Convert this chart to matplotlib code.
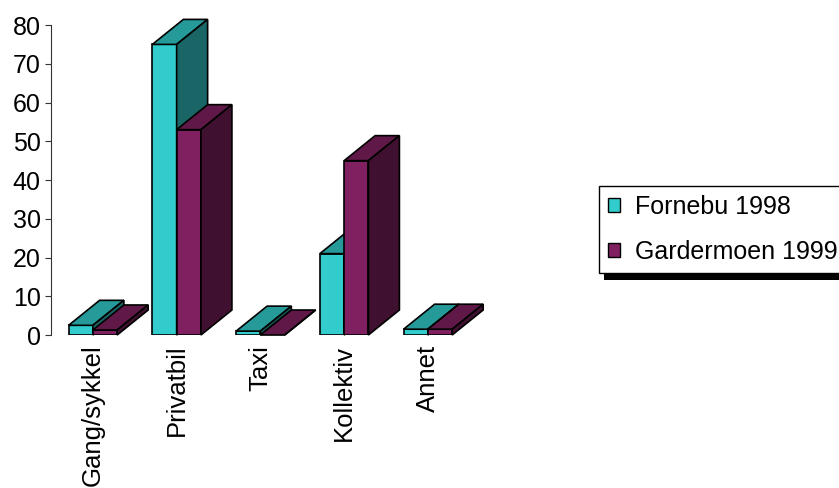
import matplotlib
matplotlib.use('Agg')
import matplotlib.pyplot as plt
from matplotlib.patches import Polygon, Rectangle
from matplotlib.transforms import IdentityTransform

# data
categories = ['Gang/sykkel', 'Privatbil', 'Taxi', 'Kollektiv', 'Annet']
fornebu_1998 = [2.5, 75, 1, 21, 1.5]
gardermoen_1999 = [1.3, 53, 0, 45, 1.5]
series_names = ['Fornebu 1998', 'Gardermoen 1999']
y_ticks = [0, 10, 20, 30, 40, 50, 60, 70, 80]

front_colors = ['#33CCCC', '#802060']
top_colors = ['#269999', '#601848']
side_colors = ['#1A6666', '#401030']

plt.rcParams['font.family'] = ['Liberation Sans', 'DejaVu Sans']

fig = plt.figure(figsize=(8.39, 4.88), dpi=100)
ax = fig.add_axes([0.0608, 0.3135, 0.549, 0.6352])
ax.set_xlim(-0.5, 5.0)
ax.set_ylim(0, 80)

width = 0.29
depth_px = (31, 25)  # 3d depth offset in pixels
inv = ax.transData.inverted()
x0, y0 = inv.transform((0, 0))
x1, y1 = inv.transform(depth_px)
ddx, ddy = x1 - x0, y1 - y0

z = 2
for i, cat in enumerate(categories):
    for s, vals in enumerate([fornebu_1998, gardermoen_1999]):
        h = vals[i]
        l = i - width + s * width
        #front face
        ax.bar(l, h, width, align='edge', color=front_colors[s], edgecolor='black',
               linewidth=1.2, zorder=z)
        #top face
        top = Polygon([(l, h), (l + width, h), (l + width + ddx, h + ddy), (l + ddx, h + ddy)],
                      closed=True, facecolor=top_colors[s], edgecolor='black',
                      linewidth=1.2, zorder=z, clip_on=False)
        ax.add_patch(top)
        #side face
        side = Polygon([(l + width, 0), (l + width, h), (l + width + ddx, h + ddy), (l + width + ddx, ddy)],
                       closed=True, facecolor=side_colors[s], edgecolor='black',
                       linewidth=1.2, zorder=z, clip_on=False)
        ax.add_patch(side)
        z += 1

ax.set_yticks(y_ticks)
ax.set_xticks(range(len(categories)))
ax.set_xticklabels(categories, rotation=90, va='top', ha='center')
ax.tick_params(axis='y', labelsize=18, length=4.3, pad=3, width=0.8, color='#333333')
ax.tick_params(axis='x', labelsize=18.5, length=0, pad=7)
for sp in ['top', 'right', 'bottom']:
    ax.spines[sp].set_visible(False)
ax.spines['left'].set_color('#333333')
ax.spines['left'].set_linewidth(0.8)

handles = [Rectangle((0, 0), 1, 1, facecolor=front_colors[k], edgecolor='black', linewidth=1)
           for k in range(2)]
leg = ax.legend(handles, series_names, loc='upper left',
                bbox_to_anchor=(599 / 839, 1 - 186 / 488), bbox_transform=fig.transFigure,
                borderaxespad=0, fontsize=18, fancybox=False, framealpha=1,
                edgecolor='black', borderpad=0.35, handlelength=0.5, handleheight=0.5,
                handletextpad=0.6, labelspacing=0.85)
leg.get_frame().set_linewidth(1)
leg.set_zorder(50)

# black drop shadow under the legend box
fig.canvas.draw()
bb = leg.get_window_extent()
shadow = Rectangle((bb.x0 + 5, bb.y0 - 7), bb.width, bb.height, facecolor='black',
                   edgecolor='none', transform=IdentityTransform(), zorder=49, clip_on=False)
ax.add_patch(shadow)

fig.savefig('out.png', dpi=100)
